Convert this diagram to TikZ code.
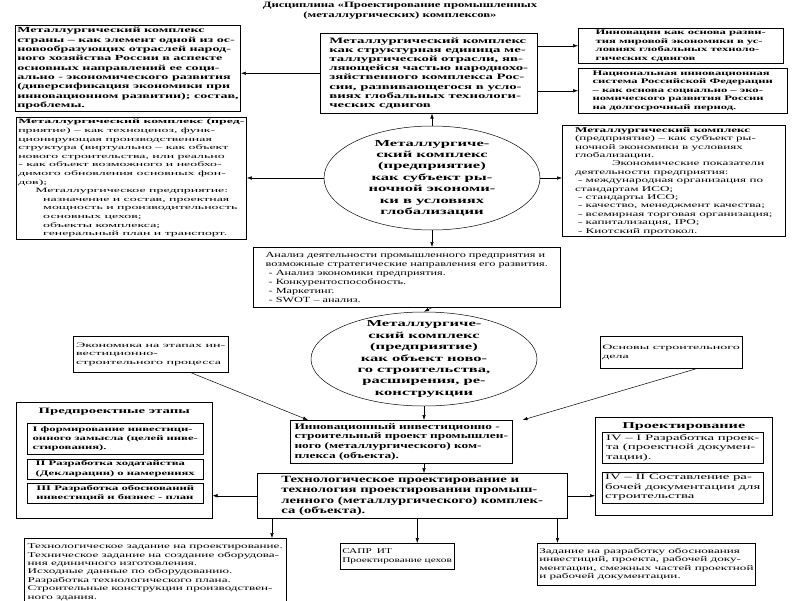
\documentclass[tikz,border=0pt]{standalone}
\usepackage{fontspec}
\setmainfont[FakeStretch=1.55]{Liberation Serif}
\newfontfamily\fmed[FakeStretch=1.8]{Liberation Serif}
\newfontfamily\fwide[FakeStretch=2.1]{Liberation Serif}
\usetikzlibrary{shapes.geometric, arrows.meta, positioning, calc}

\begin{document}
\begin{tikzpicture}[
        x=1pt, y=-1pt,
        box/.style={draw, line width=0.5pt, anchor=north west, inner sep=2pt, align=left},
        oval/.style={draw, ellipse, line width=0.5pt, align=center, inner sep=-25pt},
        arr/.style={-{Latex[length=5pt,width=3.5pt]}, line width=0.5pt},
        ttl/.style={font=\fontsize{8.2}{10}\selectfont\bfseries},
        bmid/.style={font=\fmed\fontsize{7.8}{9.3}\selectfont\bfseries},
        bbig/.style={font=\fmed\fontsize{8.2}{9.2}\selectfont\bfseries},
        bsm/.style={font=\fmed\fontsize{7}{8.4}\selectfont\bfseries},
        bov/.style={font=\fmed\fontsize{9.2}{11.4}\selectfont\bfseries},
        wmix/.style={font=\fwide\fontsize{6.6}{8.6}\selectfont},
        rmid/.style={font=\fontsize{7.9}{9}\selectfont},
        rsm/.style={font=\fwide\fontsize{6.7}{8.4}\selectfont},
        bst/.style={font=\fmed\fontsize{7}{9.4}\selectfont\bfseries},
        rst/.style={font=\fmed\fontsize{8.2}{9.5}\selectfont},
        rbot/.style={font=\fmed\fontsize{7.3}{8.4}\selectfont},
        bprj/.style={font=\fontsize{8.6}{9.8}\selectfont\bfseries},
        btech/.style={font=\fontsize{9.5}{10.3}\selectfont\bfseries}
    ]
    \useasboundingbox (0,0) rectangle (800,600);

    \node[ttl, align=center] (disc) at (400,11) {Дисциплина «Проектирование промышленных\\(металлургических) комплексов»};

    % upper row
    \node[box, bmid, minimum width=218, minimum height=86] (strana) at (15,25) {Металлургический комплекс\\страны – как элемент одной из ос-\\новообразующих отраслей народ-\\ного хозяйства России в аспекте\\основных направлений ее соци-\\ально - экономического развития\\(диверсификация экономики при\\инновационном развитии); состав,\\проблемы.};
    \node[box, bbig, minimum width=217, minimum height=80] (otrasl) at (320,33) {Металлургический комплекс\\как структурная единица ме-\\таллургической отрасли, яв-\\ляющейся частью народнохо-\\зяйственного комплекса Рос-\\сии, развивающегося в усло-\\виях глобальных технологи-\\ческих сдвигов};
    \node[box, bsm, minimum width=205, minimum height=34] (innov) at (578,28) {Инновации как основа разви-\\тия мировой экономики в ус-\\ловиях глобальных техноло-\\гических сдвигов};
    \node[box, bsm, minimum width=209, minimum height=45] (nis) at (578,68) {Национальная инновационная\\система Российской Федерации\\– как основа социально – эко-\\номического развития России\\на долгосрочный период.};

    % middle row
    \node[oval, bov, minimum width=216, minimum height=104] (subj) at (432,178) {Металлургиче-\\ский комплекс\\(предприятие)\\как субъект ры-\\ночной экономи-\\ки в условиях\\глобализации};
    \node[box, wmix, minimum width=219, minimum height=121] (tehnoc) at (16,117) {\bfseries Металлургический комплекс (пред-\\приятие) – как техноценоз, функ-\\ционирующая производственная\\структура (виртуально – как объект\\нового строительства, или реально\\- как объект возможного и необхо-\\димого обновления основных фон-\\дов);\\\mdseries\hspace*{17pt}Металлургическое предприятие:\\\hspace*{25pt}назначение и состав, проектная\\\hspace*{25pt}мощность и производительность\\\hspace*{25pt}основных цехов;\\\hspace*{25pt}объекты комплекса;\\\hspace*{25pt}генеральный план и транспорт.};
    \node[box, font=\fmed\fontsize{7.3}{8.4}\selectfont, minimum width=223, minimum height=110] (pokaz) at (562,125) {\bfseries Металлургический комплекс\\(предприятие) – как субъект ры-\\ночной экономики в условиях\\глобализации.\\\mdseries\hspace*{37pt}Экономические показатели\\деятельности предприятия:\\\hspace*{3pt}- международная организация по\\стандартам ИСО;\\\hspace*{3pt}- стандарты ИСО;\\\hspace*{3pt}- качество, менеджмент качества;\\\hspace*{3pt}- всемирная торговая организация;\\\hspace*{3pt}- капитализация, IPO;\\\hspace*{3pt}- Киотский протокол.};

    \node[box, rmid, minimum width=307, minimum height=60] (analiz) at (253,247) {Анализ деятельности промышленного предприятия и\\возможные стратегические направления его развития.\\\hspace*{3pt}- Анализ экономики предприятия.\\\hspace*{3pt}- Конкурентоспособность.\\\hspace*{3pt}- Маркетинг.\\\hspace*{3pt}- SWOT – анализ.};

    \node[oval, bov, minimum width=226, minimum height=94] (obj) at (424,359) {Металлургиче-\\ский комплекс\\(предприятие)\\как объект ново-\\го строительства,\\расширения, ре-\\конструкции};
    \node[box, rsm, minimum width=155, minimum height=36] (ekon) at (73,336) {Экономика на этапах ин-\\вестиционно-\\строительного процесса};
    \node[box, rsm, minimum width=135, minimum height=32] (osnovy) at (600,336) {Основы строительного\\дела};

    % project
    \node[box, bprj, minimum width=222, minimum height=43] (proekt) at (290,420) {Инновационный инвестиционно -\\строительный проект промышлен-\\ного (металлургического) ком-\\плекса (объекта).};
    \node[box, btech, minimum width=310, minimum height=45] (tehpr) at (257,473) {Технологическое проектирование и\\технология проектировании промыш-\\ленного (металлургического) комплек-\\са (объекта).};

    % stages, left
    \node[box, minimum width=196, minimum height=116] (predpr) at (16,402) {};
    \node[font=\fmed\fontsize{8.2}{9}\selectfont\bfseries, anchor=north] (predprt) at ([yshift=-3pt]predpr.north) {Предпроектные этапы};
    \node[box, bst, minimum width=176, minimum height=31] (st1) at (27,423) {I формирование инвестици-\\онного замысла (целей инве-\\стирования).};
    \node[box, bst, minimum width=176, minimum height=20, below=4pt of st1] (st2) {II Разработка ходатайства\\(Декларации) о намерениях};
    \node[box, bst, minimum width=176, minimum height=20, below=4pt of st2] (st3) {III Разработка обоснований\\инвестиций и бизнес - план};

    % stages, right
    \node[box, minimum width=177, minimum height=98] (proektir) at (595,417) {};
    \node[font=\fmed\fontsize{9}{10}\selectfont\bfseries, anchor=north] (proektirt) at ([yshift=-2pt]proektir.north) {Проектирование};
    \node[box, rst, minimum width=161, minimum height=31] (st4) at (602,432) {IV – I Разработка проек-\\та (проектной докумен-\\тации).};
    \node[box, rst, minimum width=161, minimum height=31, below=8pt of st4] (st5) {IV – II Составление ра-\\бочей документации для\\строительства};

    % bottom row
    \node[box, rbot, minimum width=262, minimum height=68] (zadanie) at (24,538) {Технологическое задание на проектирование.\\Техническое задание на создание оборудова-\\ния единичного изготовления.\\Исходные данные по оборудованию.\\Разработка технологического плана.\\Строительные конструкции производствен-\\ного здания.};
    \node[box, font=\fontsize{7.3}{8.4}\selectfont, minimum width=92, minimum height=26] (sapr) at (340,543) {САПР\hspace{5pt}ИТ\\Проектирование цехов};
    \node[box, rbot, minimum width=208, minimum height=42] (obosn) at (537,543) {Задание на разработку обоснования\\инвестиций, проекта, рабочей доку-\\ментации, смежных частей проектной\\и рабочей документации.};

    % connectors
    \draw[arr] (otrasl.west) -- (otrasl.west -| strana.east);
    \draw[arr] (otrasl.east |- innov.west) -- (innov.west);
    \draw[arr] (otrasl.east |- nis.west) -- (nis.west);
    \draw[arr] (subj.north) -- (subj.north |- otrasl.south);
    \draw[arr] (subj.west) -- (subj.west -| tehnoc.east);
    \draw[arr] (subj.east) -- (subj.east -| pokaz.west);
    \draw[arr] (subj.south) -- (subj.south |- analiz.north);
    \draw[arr] (subj.south |- analiz.south) -- (obj.north);
    \draw[arr] ([xshift=-38pt]ekon.south east) -- ([xshift=18pt]proekt.north west);
    \draw[arr] ([xshift=-45pt]osnovy.south east) -- ([xshift=10pt]proekt.north east);
    \draw[arr] (obj.south) -- (obj.south |- proekt.north);
    \draw[arr] (obj.south |- proekt.south) -- (obj.south |- tehpr.north);
    \draw[arr] (tehpr.west) -- (tehpr.west -| predpr.east);
    \draw[arr] (tehpr.east) -- (tehpr.east -| proektir.west);
    \draw[arr] ([xshift=15pt]tehpr.south west) -- ([xshift=15pt]tehpr.south west |- zadanie.north);
    \draw[arr] ([xshift=5pt]tehpr.south) -- ([xshift=5pt]tehpr.south |- sapr.north);
    \draw[arr] ([xshift=-10pt]tehpr.south east) -- ([xshift=-10pt]tehpr.south east |- obosn.north);
\end{tikzpicture}
\end{document}
